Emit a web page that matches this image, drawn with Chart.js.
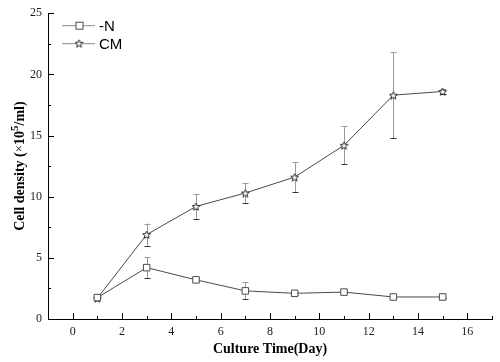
<!DOCTYPE html>
<html>
<head>
<meta charset="utf-8">
<script src="https://cdn.jsdelivr.net/npm/chart.js@4"></script>
<style>
html, body { margin: 0; padding: 0; background: #fff; }
</style>
</head>
<body>
<canvas id="chart" width="500" height="362"></canvas>
<script>
// data
const days = [1, 3, 5, 7, 9, 11, 13, 15];
const nValues = [1.75, 4.2, 3.2, 2.3, 2.1, 2.2, 1.8, 1.8];
const nErrors = [0.1, 0.85, 0.1, 0.7, 0.1, 0.1, 0.05, 0.05];
const cmValues = [1.7, 6.9, 9.2, 10.3, 11.6, 14.2, 18.3, 18.6];
const cmErrors = [0.1, 0.9, 1.05, 0.8, 1.2, 1.55, 3.5, 0.2];
const seriesLabels = ['-N', 'CM'];
const xTicks = [0, 2, 4, 6, 8, 10, 12, 14, 16];
const xMinorTicks = [1, 3, 5, 7, 9, 11, 13, 15, 17];
const yTicks = [0, 5, 10, 15, 20, 25];
const yMinorTicks = [2.5, 7.5, 12.5, 17.5, 22.5];

const lineColor = '#4a4a4a';
const serif = '"Liberation Serif", "Times New Roman", serif';

function makeStar(size, stroke) {
    const c = document.createElement('canvas');
    c.width = size;
    c.height = size;
    const g = c.getContext('2d');
    const cx = size / 2, cy = size / 2 + 0.5;
    const R = size / 2 - 0.5, r = R * 0.45;
    g.beginPath();
    for (let i = 0; i < 10; i++) {
        const a = -Math.PI / 2 + i * Math.PI / 5;
        const rr = i % 2 ? r : R;
        const px = cx + rr * Math.cos(a), py = cy + rr * Math.sin(a);
        if (i) g.lineTo(px, py); else g.moveTo(px, py);
    }
    g.closePath();
    g.fillStyle = '#fff';
    g.fill();
    g.strokeStyle = stroke;
    g.lineWidth = 1;
    g.stroke();
    return c;
}
const star = makeStar(9, '#222');

// error bars drawn under the markers
const errorBars = {
    id: 'errorBars',
    beforeDatasetsDraw(chart) {
        const ctx = chart.ctx;
        const xs = chart.scales.x, ys = chart.scales.y;
        [nErrors, cmErrors].forEach((errs, di) => {
            const vals = chart.data.datasets[di].data;
            vals.forEach((p, i) => {
                const e = errs[i];
                if (!e) return;
                const x = Math.round(xs.getPixelForValue(p.x)) + 0.5;
                const yt = ys.getPixelForValue(p.y + e);
                const yb = ys.getPixelForValue(p.y - e);
                ctx.save();
                ctx.lineWidth = 1;
                ctx.strokeStyle = '#9a9a9a';
                ctx.beginPath();
                ctx.moveTo(x, yt); ctx.lineTo(x, yb);
                ctx.moveTo(x - 3, Math.round(yt) + 0.5); ctx.lineTo(x + 3, Math.round(yt) + 0.5);
                ctx.stroke();
                ctx.strokeStyle = '#333';
                ctx.beginPath();
                ctx.moveTo(x - 3, Math.round(yb) + 0.5); ctx.lineTo(x + 3, Math.round(yb) + 0.5);
                ctx.stroke();
                ctx.restore();
            });
        });
    }
};

// inward tick marks
const innerTicks = {
    id: 'innerTicks',
    afterDraw(chart) {
        const ctx = chart.ctx;
        const xs = chart.scales.x, ys = chart.scales.y;
        const area = chart.chartArea;
        ctx.save();
        ctx.strokeStyle = '#000';
        ctx.lineWidth = 1;
        ctx.beginPath();
        xTicks.forEach(v => {
            const x = Math.round(xs.getPixelForValue(v)) + 0.5;
            ctx.moveTo(x, area.bottom); ctx.lineTo(x, area.bottom - 6);
        });
        xMinorTicks.forEach(v => {
            const x = Math.round(xs.getPixelForValue(v)) + 0.5;
            ctx.moveTo(x, area.bottom); ctx.lineTo(x, area.bottom - 3);
        });
        yTicks.forEach(v => {
            const y = Math.round(ys.getPixelForValue(v)) + 0.5;
            ctx.moveTo(area.left, y); ctx.lineTo(area.left + 6, y);
        });
        yMinorTicks.forEach(v => {
            const y = Math.round(ys.getPixelForValue(v)) + 0.5;
            ctx.moveTo(area.left, y); ctx.lineTo(area.left + 3, y);
        });
        ctx.stroke();
        ctx.restore();
    }
};

// y title with a real superscript 5
const yTitle = {
    id: 'yTitle',
    afterDraw(chart) {
        const ctx = chart.ctx;
        const area = chart.chartArea;
        const bold = 'bold 14px ' + serif;
        const reg = '13px ' + serif;
        const sup = 'bold 11px ' + serif;
        const parts = [
            ['Cell density ', bold, 0],
            ['(', bold, 0],
            ['×', reg, 0],
            ['10', bold, 0],
            ['5', sup, -5],
            ['/ml)', bold, 0]
        ];
        let total = 0;
        parts.forEach(p => { ctx.font = p[1]; total += ctx.measureText(p[0]).width; });
        ctx.save();
        ctx.translate(19, (area.top + area.bottom) / 2);
        ctx.rotate(-Math.PI / 2);
        ctx.fillStyle = '#000';
        ctx.textBaseline = 'middle';
        let x = -total / 2;
        parts.forEach(p => {
            ctx.font = p[1];
            ctx.fillText(p[0], x, 1 + p[2]);
            x += ctx.measureText(p[0]).width;
        });
        ctx.restore();
    }
};

// legend in the top left corner, line + marker + label
const cornerLegend = {
    id: 'cornerLegend',
    afterDraw(chart) {
        const ctx = chart.ctx;
        const area = chart.chartArea;
        const x0 = area.left + 14, x1 = area.left + 47;
        chart.data.datasets.forEach((ds, i) => {
            const y = area.top + 12.5 + i * 18;
            ctx.save();
            ctx.strokeStyle = '#888';
            ctx.lineWidth = 1;
            ctx.beginPath();
            ctx.moveTo(x0, y); ctx.lineTo(x1, y);
            ctx.stroke();
            const mx = Math.round((x0 + x1) / 2);
            if (i === 0) {
                ctx.fillStyle = '#fff';
                ctx.strokeStyle = lineColor;
                ctx.fillRect(mx - 3, y - 3.5, 7, 7);
                ctx.strokeRect(mx - 3, y - 3.5, 7, 7);
            } else {
                ctx.drawImage(star, mx - 4.5, y - 5);
            }
            ctx.fillStyle = '#000';
            ctx.font = '15px "Liberation Sans", Arial, sans-serif';
            ctx.textBaseline = 'middle';
            ctx.fillText(ds.label, x1 + 4, y + 1);
            ctx.restore();
        });
    }
};

new Chart(document.getElementById('chart'), {
    type: 'line',
    data: {
        datasets: [
            {
                label: seriesLabels[0],
                data: days.map((d, i) => ({ x: d, y: nValues[i] })),
                borderColor: lineColor,
                borderWidth: 1,
                pointStyle: 'rect',
                pointRadius: 4.6,
                pointBackgroundColor: '#fff',
                pointBorderColor: lineColor,
                pointBorderWidth: 1,
                tension: 0
            },
            {
                label: seriesLabels[1],
                data: days.map((d, i) => ({ x: d, y: cmValues[i] })),
                borderColor: lineColor,
                borderWidth: 1,
                pointStyle: star,
                pointRadius: 5,
                tension: 0
            }
        ]
    },
    options: {
        responsive: false,
        animation: false,
        layout: { padding: { top: 10, right: 8, left: 0, bottom: 0 } },
        plugins: { legend: { display: false }, tooltip: { enabled: false } },
        scales: {
            x: {
                type: 'linear',
                min: -1,
                max: 17,
                afterBuildTicks: s => { s.ticks = xTicks.map(v => ({ value: v })); },
                afterFit: s => { s.height = 43; },
                grid: { display: false, drawTicks: false },
                border: { color: '#000', width: 1 },
                ticks: { font: { family: serif, size: 12 }, color: '#222', padding: 6, maxRotation: 0 },
                title: {
                    display: true,
                    text: 'Culture Time(Day)',
                    font: { family: serif, size: 14, weight: 'bold' },
                    color: '#000',
                    padding: { top: 0, bottom: 4 }
                }
            },
            y: {
                min: 0,
                max: 25,
                afterBuildTicks: s => { s.ticks = yTicks.map(v => ({ value: v })); },
                afterFit: s => { s.width = 48; },
                grid: { display: false, drawTicks: false },
                border: { color: '#000', width: 1 },
                ticks: { font: { family: serif, size: 12 }, color: '#222', padding: 6 },
                title: { display: false }
            }
        }
    },
    plugins: [errorBars, innerTicks, yTitle, cornerLegend]
});
</script>
</body>
</html>
